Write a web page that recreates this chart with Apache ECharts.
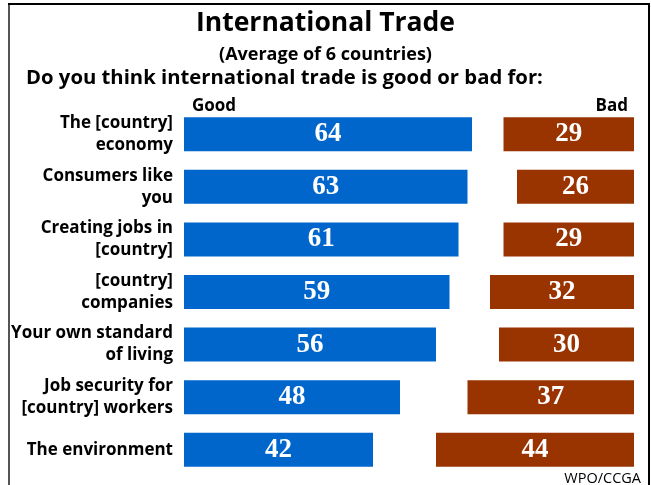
<!DOCTYPE html>
<html><head><meta charset="utf-8">
<script src="https://cdn.jsdelivr.net/npm/echarts@6/dist/echarts.min.js"></script>
<style>html,body{margin:0;padding:0;background:#fff}#c{width:651px;height:485px}</style>
</head><body><div id="c"></div>
<script>
const categories = ['The [country]\neconomy','Consumers like\nyou','Creating jobs in\n[country]','[country]\ncompanies','Your own standard\nof living','Job security for\n[country] workers','The environment'];
const goodValues = [64,63,61,59,56,48,42];
const badValues = [29,26,29,32,30,37,44];
const titleText = 'International Trade';
const subtitleText = '(Average of 6 countries)';
const questionText = 'Do you think international trade is good or bad for:';
const sourceText = 'WPO/CCGA';

const chart = echarts.init(document.getElementById('c'), null, {renderer:'canvas'});
const sans = 'Open Sans';
const valLabel = {show:true, position:'inside', color:'#fff', fontFamily:'Liberation Serif', fontWeight:'bold', fontSize:27};
chart.setOption({
  animation:false,
  title:[
    {text:titleText, left:'center', top:5, textStyle:{fontFamily:sans, fontWeight:'bold', fontSize:26.5, color:'#000'}},
    {text:subtitleText, left:'center', top:41, textStyle:{fontFamily:sans, fontWeight:'bold', fontSize:18, color:'#000'}},
    {text:questionText, left:21, top:63, textStyle:{fontFamily:sans, fontWeight:'bold', fontSize:20.3, color:'#000'}},
    {text:'Good', left:187, top:93, textStyle:{fontFamily:sans, fontWeight:'bold', fontSize:17, color:'#000'}},
    {text:'Bad', right:18, top:93, textStyle:{fontFamily:sans, fontWeight:'bold', fontSize:17, color:'#000'}},
    {text:sourceText, right:5, top:466, textStyle:{fontFamily:sans, fontWeight:'normal', fontSize:14.5, color:'#000'}}
  ],
  graphic:[
    {type:'line', shape:{x1:9, y1:4, x2:9, y2:485}, style:{stroke:'#555', lineWidth:2}},
    {type:'line', shape:{x1:8, y1:4, x2:650, y2:4}, style:{stroke:'#000', lineWidth:2}},
    {type:'line', shape:{x1:649, y1:4, x2:649, y2:485}, style:{stroke:'#000', lineWidth:2}}
  ],
  grid:[
    {left:184, top:108, width:450, height:368},
    {left:184, top:108, width:450, height:368}
  ],
  xAxis:[
    {gridIndex:0, type:'value', min:0, max:100, show:false},
    {gridIndex:1, type:'value', min:0, max:100, inverse:true, show:false}
  ],
  yAxis:[
    {gridIndex:0, type:'category', data:categories, inverse:true,
     axisLine:{show:false}, axisTick:{show:false},
     axisLabel:{margin:11, fontFamily:sans, fontWeight:'bold', fontSize:17, color:'#000', lineHeight:22, align:'right'}},
    {gridIndex:1, type:'category', data:categories, inverse:true, show:false}
  ],
  series:[
    {type:'bar', xAxisIndex:0, yAxisIndex:0, data:goodValues, barWidth:34,
     itemStyle:{color:'#0066CC'}, label:valLabel},
    {type:'bar', xAxisIndex:1, yAxisIndex:1, data:badValues, barWidth:34,
     itemStyle:{color:'#993300'}, label:valLabel}
  ]
});
</script></body></html>
